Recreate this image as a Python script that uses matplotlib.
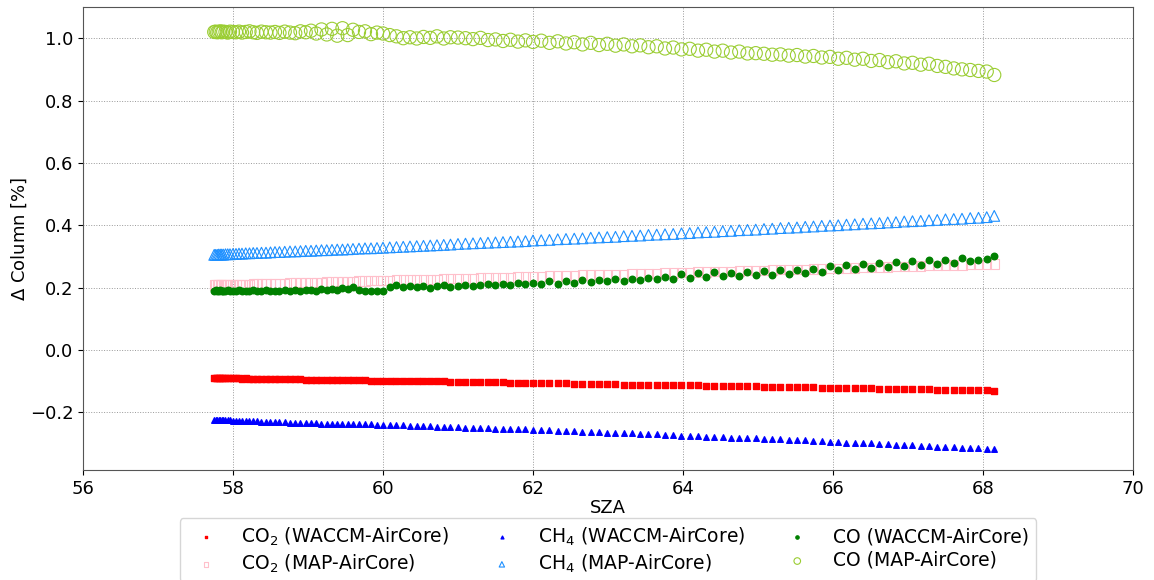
import matplotlib
matplotlib.use("Agg")
import matplotlib.pyplot as plt
import numpy as np

# ==== data ====
sza = [
    57.75, 57.77, 57.79, 57.81, 57.83, 57.85, 57.87, 57.90, 57.93, 57.96,
    58.00, 58.04, 58.08, 58.12, 58.17, 58.22, 58.27, 58.32, 58.38, 58.44, 58.50,
    58.56, 58.62, 58.69, 58.76, 58.83, 58.90, 58.97,
    59.04, 59.11, 59.18, 59.25, 59.32, 59.39, 59.46, 59.53, 59.60, 59.68, 59.76, 59.84, 59.92,
    60.00, 60.09, 60.18, 60.27, 60.36, 60.45, 60.54, 60.63, 60.72, 60.81, 60.90,
    61.00, 61.10, 61.20, 61.30, 61.40, 61.50, 61.60, 61.70, 61.80, 61.90,
    62.00, 62.11, 62.22, 62.33, 62.44, 62.55, 62.66, 62.77, 62.88, 62.99,
    63.10, 63.21, 63.32, 63.43, 63.54, 63.65, 63.76, 63.87, 63.98,
    64.09, 64.20, 64.31, 64.42, 64.53, 64.64, 64.75, 64.86, 64.97,
    65.08, 65.19, 65.30, 65.41, 65.52, 65.63, 65.74, 65.85, 65.96,
    66.07, 66.18, 66.29, 66.40, 66.51, 66.62, 66.73, 66.84, 66.95,
    67.06, 67.17, 67.28, 67.39, 67.50, 67.61, 67.72, 67.83, 67.94,
    68.05, 68.15,
]

co2_waccm = [
    -0.090, -0.090, -0.089, -0.090, -0.090, -0.091, -0.090, -0.090, -0.091, -0.091,
    -0.091, -0.091, -0.091, -0.092, -0.091, -0.092, -0.092, -0.092, -0.093, -0.093, -0.093,
    -0.093, -0.093, -0.094, -0.094, -0.094, -0.094, -0.095,
    -0.095, -0.095, -0.095, -0.096, -0.096, -0.096, -0.096, -0.097, -0.097, -0.097, -0.097, -0.098, -0.098,
    -0.098, -0.099, -0.099, -0.099, -0.100, -0.100, -0.100, -0.100, -0.101, -0.101, -0.102,
    -0.102, -0.102, -0.103, -0.103, -0.103, -0.104, -0.104, -0.105, -0.105, -0.105,
    -0.106, -0.106, -0.107, -0.107, -0.107, -0.108, -0.108, -0.109, -0.109, -0.110,
    -0.110, -0.111, -0.111, -0.111, -0.112, -0.112, -0.113, -0.113, -0.114,
    -0.114, -0.114, -0.115, -0.115, -0.116, -0.116, -0.116, -0.117, -0.117,
    -0.118, -0.118, -0.119, -0.119, -0.119, -0.120, -0.120, -0.121, -0.121,
    -0.121, -0.122, -0.122, -0.123, -0.123, -0.124, -0.124, -0.124, -0.125,
    -0.125, -0.126, -0.126, -0.127, -0.127, -0.128, -0.128, -0.129, -0.129,
    -0.130, -0.131,
]

co2_map = [
    0.208, 0.208, 0.208, 0.209, 0.209, 0.209, 0.209, 0.209, 0.210, 0.210,
    0.210, 0.210, 0.210, 0.211, 0.211, 0.211, 0.212, 0.212, 0.212, 0.213, 0.213,
    0.213, 0.214, 0.214, 0.215, 0.215, 0.216, 0.216,
    0.217, 0.217, 0.217, 0.218, 0.218, 0.219, 0.219, 0.220, 0.220, 0.221, 0.221, 0.222, 0.222,
    0.223, 0.223, 0.224, 0.225, 0.225, 0.226, 0.226, 0.227, 0.227, 0.228, 0.229,
    0.229, 0.230, 0.230, 0.231, 0.232, 0.232, 0.233, 0.233, 0.234, 0.235,
    0.235, 0.236, 0.237, 0.237, 0.238, 0.239, 0.240, 0.240, 0.241, 0.242,
    0.242, 0.243, 0.244, 0.245, 0.245, 0.246, 0.247, 0.247, 0.248,
    0.249, 0.250, 0.250, 0.251, 0.252, 0.252, 0.253, 0.254, 0.255,
    0.255, 0.256, 0.257, 0.257, 0.258, 0.259, 0.260, 0.260, 0.261,
    0.262, 0.262, 0.263, 0.264, 0.265, 0.265, 0.266, 0.267, 0.267,
    0.268, 0.269, 0.270, 0.270, 0.271, 0.272, 0.272, 0.273, 0.274,
    0.275, 0.276,
]

ch4_waccm = [
    -0.224, -0.224, -0.225, -0.224, -0.225, -0.225, -0.226, -0.225, -0.226, -0.226,
    -0.227, -0.227, -0.227, -0.228, -0.228, -0.229, -0.229, -0.229, -0.230, -0.230, -0.231,
    -0.231, -0.232, -0.232, -0.233, -0.233, -0.234, -0.234,
    -0.235, -0.235, -0.236, -0.236, -0.236, -0.237, -0.237, -0.238, -0.238, -0.238, -0.239, -0.239, -0.240,
    -0.240, -0.241, -0.242, -0.242, -0.243, -0.244, -0.244, -0.245, -0.246, -0.246, -0.247,
    -0.248, -0.249, -0.249, -0.250, -0.251, -0.252, -0.252, -0.253, -0.254, -0.255,
    -0.256, -0.257, -0.258, -0.259, -0.260, -0.261, -0.262, -0.263, -0.264, -0.265,
    -0.266, -0.267, -0.268, -0.269, -0.270, -0.271, -0.273, -0.274, -0.275,
    -0.276, -0.277, -0.278, -0.279, -0.280, -0.281, -0.282, -0.283, -0.284,
    -0.285, -0.286, -0.287, -0.288, -0.289, -0.290, -0.292, -0.293, -0.294,
    -0.296, -0.297, -0.298, -0.299, -0.300, -0.302, -0.303, -0.304, -0.305,
    -0.306, -0.308, -0.309, -0.310, -0.311, -0.312, -0.314, -0.315, -0.316,
    -0.317, -0.318,
]

ch4_map = [
    0.305, 0.305, 0.305, 0.306, 0.306, 0.306, 0.306, 0.307, 0.307, 0.307,
    0.308, 0.308, 0.309, 0.309, 0.310, 0.310, 0.311, 0.311, 0.312, 0.312, 0.313,
    0.314, 0.314, 0.315, 0.316, 0.316, 0.317, 0.318,
    0.318, 0.319, 0.320, 0.320, 0.321, 0.322, 0.322, 0.323, 0.324, 0.325, 0.326, 0.326, 0.327,
    0.328, 0.329, 0.330, 0.331, 0.332, 0.333, 0.334, 0.335, 0.336, 0.337, 0.338,
    0.340, 0.341, 0.342, 0.343, 0.344, 0.345, 0.346, 0.347, 0.348, 0.349,
    0.351, 0.352, 0.353, 0.355, 0.356, 0.357, 0.358, 0.360, 0.361, 0.362,
    0.363, 0.365, 0.366, 0.367, 0.369, 0.370, 0.371, 0.372, 0.374,
    0.375, 0.377, 0.378, 0.379, 0.381, 0.382, 0.384, 0.385, 0.386,
    0.388, 0.389, 0.391, 0.392, 0.393, 0.395, 0.396, 0.398, 0.399,
    0.400, 0.402, 0.403, 0.405, 0.406, 0.407, 0.409, 0.410, 0.412,
    0.413, 0.414, 0.416, 0.417, 0.419, 0.420, 0.421, 0.423, 0.424,
    0.426, 0.430,
]

co_waccm = [
    0.190, 0.191, 0.189, 0.190, 0.191, 0.190, 0.189, 0.190, 0.191, 0.190,
    0.189, 0.190, 0.191, 0.190, 0.189, 0.190, 0.191, 0.190, 0.189, 0.191, 0.190,
    0.190, 0.189, 0.191, 0.190, 0.192, 0.190, 0.191,
    0.192, 0.190, 0.194, 0.191, 0.196, 0.193, 0.199, 0.195, 0.201, 0.192, 0.189, 0.190, 0.188,
    0.189, 0.203, 0.207, 0.201, 0.204, 0.203, 0.206, 0.200, 0.204, 0.208, 0.203,
    0.205, 0.208, 0.204, 0.209, 0.211, 0.207, 0.212, 0.209, 0.215, 0.210,
    0.216, 0.211, 0.220, 0.213, 0.222, 0.215, 0.224, 0.218, 0.225, 0.220,
    0.227, 0.221, 0.229, 0.223, 0.231, 0.226, 0.234, 0.228, 0.245,
    0.232, 0.247, 0.234, 0.249, 0.236, 0.248, 0.238, 0.251, 0.240,
    0.253, 0.242, 0.256, 0.244, 0.258, 0.247, 0.261, 0.250, 0.270,
    0.256, 0.273, 0.259, 0.276, 0.262, 0.278, 0.265, 0.281, 0.270,
    0.284, 0.273, 0.287, 0.276, 0.290, 0.280, 0.296, 0.284, 0.290,
    0.291, 0.300,
]

co_map = [
    1.020, 1.021, 1.019, 1.020, 1.022, 1.019, 1.021, 1.020, 1.018, 1.021,
    1.020, 1.019, 1.021, 1.018, 1.020, 1.022, 1.019, 1.017, 1.021, 1.019, 1.018,
    1.020, 1.017, 1.021, 1.018, 1.016, 1.022, 1.019,
    1.024, 1.015, 1.028, 1.012, 1.030, 1.008, 1.032, 1.010, 1.027, 1.020, 1.022, 1.013, 1.018,
    1.015, 1.010, 1.006, 1.000, 1.003, 0.999, 1.004, 1.001, 1.006, 0.999, 1.003,
    1.002, 1.000, 0.997, 1.001, 0.994, 0.996, 0.991, 0.995, 0.989, 0.993,
    0.988, 0.992, 0.985, 0.990, 0.983, 0.987, 0.980, 0.985, 0.978, 0.982,
    0.976, 0.980, 0.974, 0.977, 0.971, 0.974, 0.967, 0.970, 0.964,
    0.966, 0.960, 0.963, 0.957, 0.960, 0.954, 0.957, 0.951, 0.952,
    0.950, 0.947, 0.948, 0.944, 0.946, 0.941, 0.943, 0.938, 0.940,
    0.934, 0.937, 0.931, 0.934, 0.927, 0.930, 0.923, 0.926, 0.919,
    0.921, 0.915, 0.918, 0.911, 0.908, 0.903, 0.900, 0.898, 0.895,
    0.893, 0.882,
]

plt.rcParams['font.size'] = 13

fig = plt.figure(figsize=(11.54, 5.80), dpi=100)
ax = fig.add_axes([0.0719, 0.1897, 0.9099, 0.7982])

# ==== scatter ====
ax.scatter(sza, co2_waccm, marker='s', s=14, color='red', label=r'CO$_2$ (WACCM-AirCore)')
ax.scatter(sza, co2_map, marker='s', s=45, facecolors='none', edgecolors='pink',
           linewidths=0.8, label=r'CO$_2$ (MAP-AirCore)')
ax.scatter(sza, ch4_waccm, marker='^', s=16, color='blue', label=r'CH$_4$ (WACCM-AirCore)')
ax.scatter(sza, ch4_map, marker='^', s=60, facecolors='none', edgecolors='dodgerblue',
           linewidths=0.8, label=r'CH$_4$ (MAP-AirCore)')
ax.scatter(sza, co_waccm, marker='o', s=22, color='green', label='CO (WACCM-AirCore)')
ax.scatter(sza, co_map, marker='o', s=90, facecolors='none', edgecolors='yellowgreen',
           linewidths=0.8, label='CO (MAP-AirCore)')

ax.set_xlim(56, 70)
ax.set_ylim(-0.385, 1.10)
ax.set_xticks([56, 58, 60, 62, 64, 66, 68, 70])
ax.set_yticks([-0.2, 0.0, 0.2, 0.4, 0.6, 0.8, 1.0])
ax.set_xlabel('SZA', labelpad=1)
ax.set_ylabel(r'$\Delta$ Column [%]', labelpad=0.5)
ax.grid(True, linestyle=':', color='#999999', linewidth=0.7)
ax.set_axisbelow(True)
for sp in ax.spines.values():
    sp.set_color('#555555')

ax.legend(loc='upper center', bbox_to_anchor=(0.5, -0.083), ncol=3, fontsize=13.5,
          markerscale=0.5, columnspacing=1.8, handletextpad=0.9, labelspacing=0.25)

plt.savefig('out.png', dpi=100)
